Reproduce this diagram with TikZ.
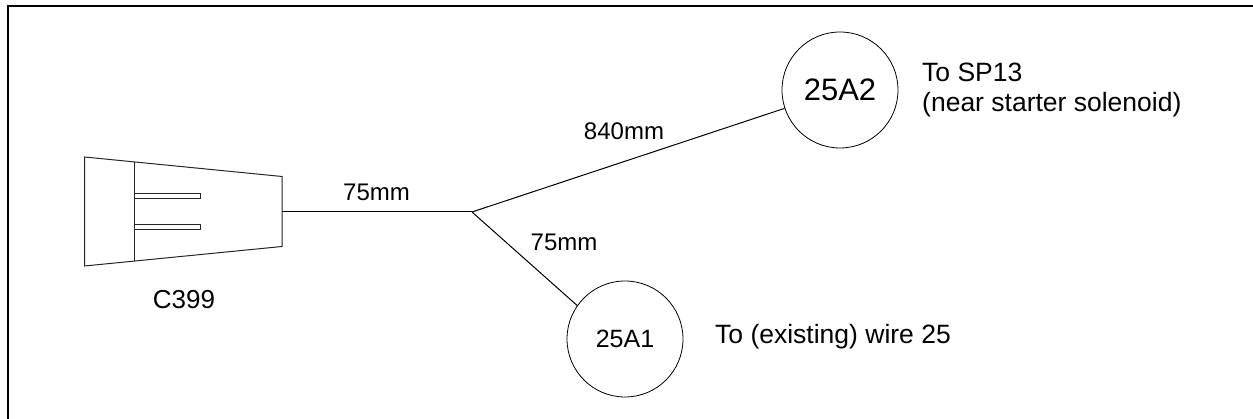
\documentclass[tikz,border=0pt]{standalone}
\usepackage{fontspec}
\setmainfont{Liberation Sans}
\pgfdeclarelayer{nodelayer}
\pgfdeclarelayer{edgelayer}
\pgfsetlayers{edgelayer,nodelayer,main}
\tikzstyle{terminal}=[fill=white, draw=black, shape=circle, inner sep=0pt, line width=0.8pt, minimum size=116pt]
\tikzstyle{big terminal}=[style=terminal, font=\fontsize{31}{36}\selectfont]
\tikzstyle{small terminal}=[style=terminal, font=\fontsize{25}{30}\selectfont]
\tikzstyle{label}=[inner sep=0pt, font=\fontsize{24}{29}\selectfont]
\tikzstyle{note}=[inner sep=0pt, anchor=west, align=left, font=\fontsize{26.5}{29.5}\selectfont]
\tikzstyle{wire}=[line width=1pt]
\tikzstyle{body}=[line width=1pt, draw=black!85]
\tikzstyle{frame}=[line width=2pt]
\begin{document}
\begin{tikzpicture}[x=1pt, y=1pt]
	\useasboundingbox (0, 0) rectangle (1253, 419);
	\begin{pgfonlayer}{nodelayer}
		\node [style=big terminal] (0) at (840, 329) {25A2};
		\node [style=small terminal] (1) at (625, 80) {25A1};
		\coordinate (2) at (282, 207);
		\coordinate (3) at (472, 207);
		\node [style=label] (4) at (376.5, 226.5) {75mm};
		\node [style=label] (5) at (624, 288) {840mm};
		\node [style=label] (6) at (564, 177) {75mm};
		\node [style=label, font=\fontsize{26}{30}\selectfont] (7) at (184, 119) {C399};
		\node [style=note] (8) at (922, 329) {To SP13\\(near starter solenoid)};
		\node [style=note] (9) at (715, 82) {To (existing) wire 25};
	\end{pgfonlayer}
	\begin{pgfonlayer}{edgelayer}
		\draw [style=frame] (8, 0) -- (8, 413) -- (1253, 413);
		% connector body
		\draw [style=body] (84.5, 262) -- (282, 242.5) -- (282, 172.5) -- (84.5, 153) -- cycle;
		\draw [style=body] (134, 257) -- (134, 158);
		\draw [style=body] (134, 225) rectangle (200, 220);
		\draw [style=body] (134, 194.5) rectangle (200, 189.5);
		\draw [style=wire] (2) to (3);
		\draw [style=wire] (3) to (0);
		\draw [style=wire] (3) to (1.145);
	\end{pgfonlayer}
\end{tikzpicture}
\end{document}
